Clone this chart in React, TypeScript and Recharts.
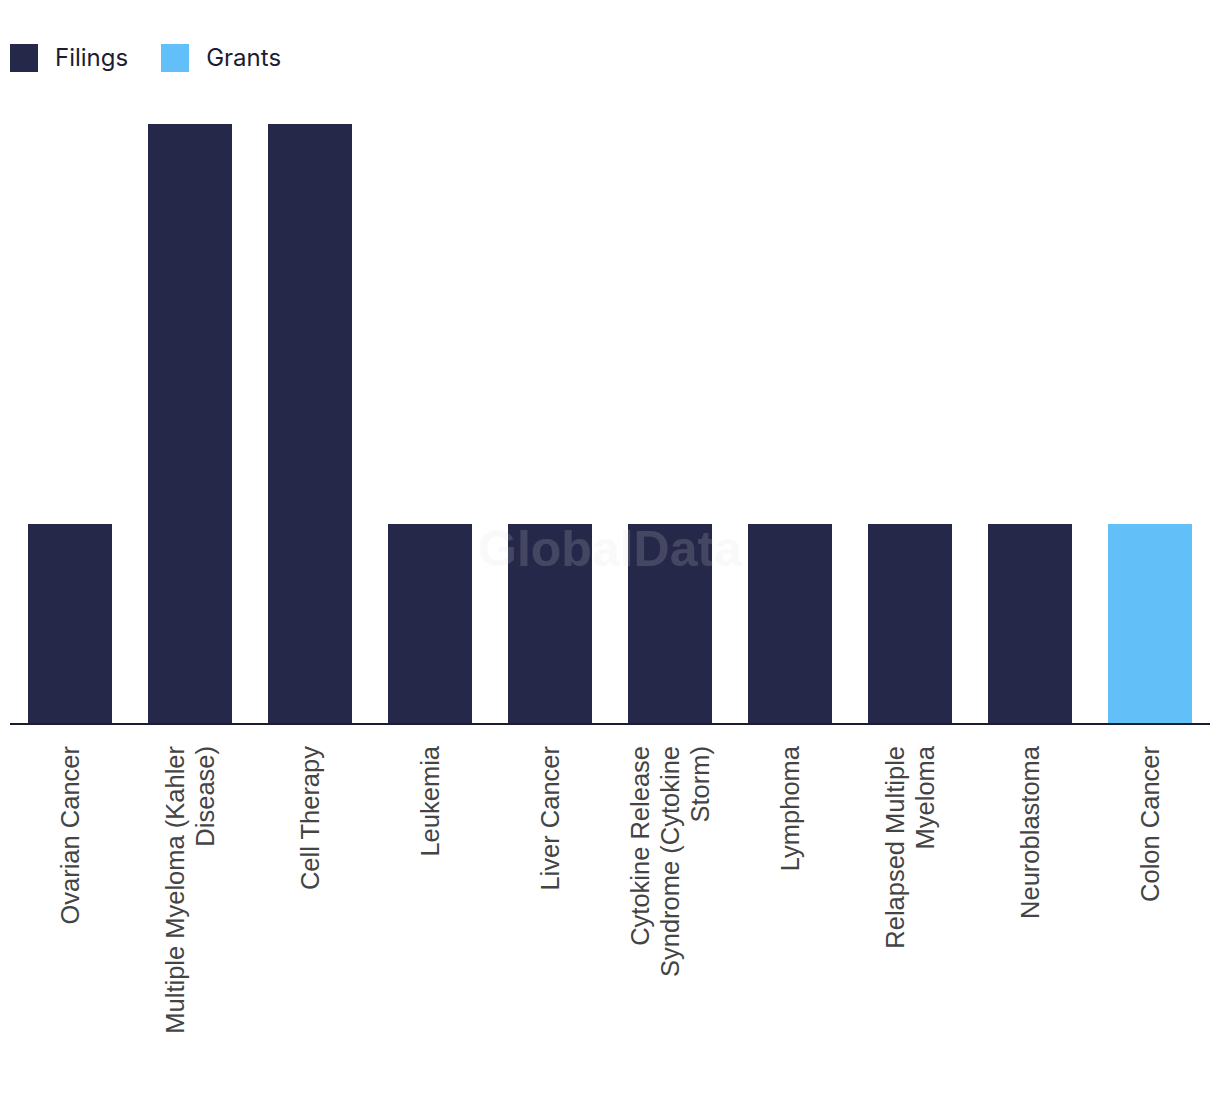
import React from "react";
import { BarChart, Bar, XAxis, YAxis } from "recharts";

const categories = [
  "Ovarian Cancer",
  "Multiple Myeloma (Kahler Disease)",
  "Cell Therapy",
  "Leukemia",
  "Liver Cancer",
  "Cytokine Release Syndrome (Cytokine Storm)",
  "Lymphoma",
  "Relapsed Multiple Myeloma",
  "Neuroblastoma",
  "Colon Cancer",
];
const filings = [1, 3, 3, 1, 1, 1, 1, 1, 1, 0];
const grants = [0, 0, 0, 0, 0, 0, 0, 0, 0, 1];

const FILINGS_COLOR = "#262849";
const GRANTS_COLOR = "#63bff8";
const LABEL_FONT = "'Liberation Sans', Arial, sans-serif";
const LABEL_SIZE = 25.5;
const LINE_H = 30;
const WRAP_W = 305;

const rows = categories.map((name, i) => ({ name, filings: filings[i], grants: grants[i] }));

let ctx: CanvasRenderingContext2D | null = null;
const measure = (s: string) => {
  if (!ctx) ctx = document.createElement("canvas").getContext("2d");
  if (!ctx) return s.length * 12;
  ctx.font = `${LABEL_SIZE}px ${LABEL_FONT}`;
  return ctx.measureText(s).width;
};

// greedy word wrap
const wrap = (label: string) => {
  const lines: string[] = [];
  let cur = "";
  label.split(" ").forEach((w) => {
    const next = cur ? cur + " " + w : w;
    if (cur && measure(next) > WRAP_W) {
      lines.push(cur);
      cur = w;
    } else cur = next;
  });
  if (cur) lines.push(cur);
  return lines;
};

const CategoryTick = (props: any) => {
  const { x, y, payload } = props;
  const lines = wrap(String(payload.value));
  const first = -((lines.length - 1) / 2) * LINE_H + LABEL_SIZE * 0.36;
  return (
    <g transform={`translate(${x},${y + 22}) rotate(-90)`}>
      <text textAnchor="end" fill="#444" fontSize={LABEL_SIZE} fontFamily={LABEL_FONT}>
        {lines.map((l, i) => (
          <tspan key={i} x={0} y={first + i * LINE_H}>
            {l}
          </tspan>
        ))}
      </text>
    </g>
  );
};

const legendItems = [
  { name: "Filings", color: FILINGS_COLOR },
  { name: "Grants", color: GRANTS_COLOR },
];

export default function App() {
  return (
    <div style={{ position: "relative", width: 1204, height: 1060 }}>
      <div
        style={{
          position: "absolute",
          left: 2,
          top: 35,
          display: "flex",
          alignItems: "center",
          fontFamily: "Inter, sans-serif",
          fontSize: 24,
          color: "#1c1c36",
        }}
      >
        {legendItems.map((d) => (
          <span key={d.name} style={{ display: "flex", alignItems: "center", marginRight: 33 }}>
            <span style={{ width: 28, height: 28, background: d.color, marginRight: 17, display: "inline-block" }} />
            {d.name}
          </span>
        ))}
      </div>
      <BarChart
        width={1204}
        height={1060}
        data={rows}
        margin={{ top: 116, right: 2, bottom: 0, left: 2 }}
        barCategoryGap="15%"
      >
        <YAxis hide domain={[0, 3]} />
        <XAxis
          dataKey="name"
          interval={0}
          height={344}
          tickLine={false}
          tickSize={0}
          tickMargin={0}
          axisLine={{ stroke: "#1b1b32", strokeWidth: 2 }}
          tick={<CategoryTick />}
        />
        <Bar dataKey="filings" name="Filings" stackId="a" fill={FILINGS_COLOR} isAnimationActive={false} />
        <Bar dataKey="grants" name="Grants" stackId="a" fill={GRANTS_COLOR} isAnimationActive={false} />
      </BarChart>
      <div
        style={{
          position: "absolute",
          left: 0,
          width: 1204,
          top: 512,
          textAlign: "center",
          fontFamily: "'Liberation Sans', Arial, sans-serif",
          fontWeight: 700,
          fontSize: 50,
          color: "#e0e0e0",
          opacity: 0.17,
          pointerEvents: "none",
        }}
      >
        GlobalData
      </div>
    </div>
  );
}
